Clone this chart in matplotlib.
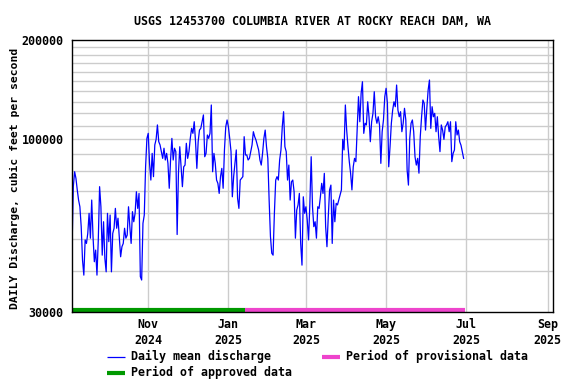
import matplotlib
matplotlib.use('Agg')
import matplotlib.pyplot as plt
from matplotlib.lines import Line2D
from matplotlib.ticker import FixedLocator, NullLocator, FixedFormatter
import pandas as pd

# ---------------- data ----------------
title = "USGS 12453700 COLUMBIA RIVER AT ROCKY REACH DAM, WA"
ylabel = "DAILY Discharge, cubic feet per second"
start_date = "2024-09-04"          # first daily value
approved_end = "2025-01-14"        # end of approved period
x_min, x_max = "2024-09-04", "2025-09-05"

# daily mean discharge, cfs
discharge = [
    46200, 71900, 79800, 76200, 70300, 65500, 62500, 54400, 43100, 38800,
    49600, 48400, 51900, 59700, 50200, 65500, 50700, 42600, 46200, 38800,
    49600, 71900, 62500, 44600, 56300, 43600, 39700, 59700, 49000, 59000,
    39700, 51900, 53800, 61800, 53800, 57700, 50200, 44100, 47300, 48400,
    53800, 50200, 51300, 62500, 54400, 48400, 60400, 56300, 59700, 69400,
    61800, 68600, 38400, 37500, 55700, 59000, 82600, 100700, 104300, 84600,
    75300, 90700, 77100, 96200, 100000, 110600, 98400, 96200, 91800, 87600,
    94000, 86600, 90700, 84600, 71100, 86600, 100700,
    86600, 94000, 91800, 51500, 78900, 95000, 82600, 71900, 82600, 83600,
    97300, 87600, 91800, 100700, 108000, 104300, 113100, 98400, 81700, 98400,
    106700, 108000, 113100, 118600, 88600, 90700, 103100, 100700, 104300, 127100,
    79800, 90700, 84600, 75300, 73600, 68600, 77100, 81700, 71100, 92900,
    109200, 114500, 109200, 100700, 91800, 67000, 77100, 84600, 92900, 66300,
    61800, 75300, 76200, 77100, 101900, 89700, 89700, 86600, 87600, 91800,
    96200, 105500, 101900, 99500, 96200, 92900, 86600, 83600, 90700, 100700,
    106700, 95000, 87600, 65500,
    50800, 45200, 44600, 59700, 75300, 77100, 75300, 86600, 92900, 109200,
    121300, 95000, 91800, 75300, 83600, 65500, 74400, 75300, 69400, 50200,
    61100, 63300, 68600, 48400, 41600, 67000, 59700, 62500, 57000, 49600,
    64000, 88600, 62500, 54400, 56300, 50200, 62500, 61800, 67000, 73600,
    68600, 78900, 54400, 47300, 58300, 70300, 72700, 48400, 65500, 56300,
    64000, 63300, 65500, 67900, 70300, 100000, 92900, 127100, 106700, 95000,
    85600, 78900, 70300, 82600, 87600, 85600, 108000, 134700, 113100, 137900,
    149500,
    104300, 111900, 110600, 130000, 117100, 98400, 113100, 119900, 139400, 117100,
    111900, 117100, 110600, 84600, 105500, 114500, 134700, 142800, 128600, 82600,
    95000, 111900, 122700, 130000, 125600, 146100, 122700, 117100, 121300, 105500,
    111900, 124200, 114500, 80800, 72700, 100700, 111900, 114500, 105500, 88600,
    83600, 87600, 79000, 101900, 117100, 131600, 128600, 106700, 124200, 141100,
    151300, 108000, 125600, 117100, 119900, 105500, 117100, 101900, 91800, 110600,
    106700, 100000, 109200, 110600, 113100, 105500, 113100, 85600, 90700, 92900,
    113100, 103100, 106700, 98400, 96000, 91800, 87600,
]

y_major = [30000, 100000, 200000]
y_grid = [40000, 50000, 60000, 70000, 80000, 90000, 100000, 110000, 120000,
          130000, 140000, 150000, 160000, 170000, 180000, 190000]
x_ticks = ["2024-11-01", "2025-01-01", "2025-03-01", "2025-05-01",
           "2025-07-01", "2025-09-01"]
x_labels = ["Nov\n2024", "Jan\n2025", "Mar\n2025", "May\n2025",
            "Jul\n2025", "Sep\n2025"]

# ---------------- style ----------------
BLUE = "#0000FF"
GREEN = "#009900"
PINK = "#EE44CC"
GRID = "#CCCCCC"
FONT = "DejaVu Sans Mono"
FS = 8.4

plt.rcParams['font.family'] = FONT
plt.rcParams['font.weight'] = 'bold'

dates = pd.date_range(start_date, periods=len(discharge), freq="D")

W, H = 576, 384
fig = plt.figure(figsize=(W / 100, H / 100), dpi=100)
ax = fig.add_axes([72 / W, 1 - 312 / H, (553 - 72) / W, (312 - 40) / H])

ax.set_yscale("log")
ax.set_ylim(30000, 200000)
ax.set_xlim(pd.Timestamp(x_min), pd.Timestamp(x_max))

# grid
for g in y_grid:
    ax.axhline(g, color=GRID, lw=1.0, zorder=1)
for t in x_ticks:
    ax.axvline(pd.Timestamp(t), color=GRID, lw=1.0, zorder=1)

# data
ax.plot(dates, discharge, color=BLUE, lw=0.9, zorder=3)

# approval bars along the bottom
bar_y = 0.0075
trans = ax.get_xaxis_transform()
ax.plot([pd.Timestamp(start_date), pd.Timestamp(approved_end)], [bar_y, bar_y],
        color=GREEN, lw=3.0, solid_capstyle="butt", transform=trans, zorder=4,
        clip_on=False)
ax.plot([pd.Timestamp(approved_end), dates[-1] + pd.Timedelta(days=1)],
        [bar_y, bar_y], color=PINK, lw=3.0, solid_capstyle="butt",
        transform=trans, zorder=4, clip_on=False)

# ticks
ax.yaxis.set_major_locator(FixedLocator(y_major))
ax.yaxis.set_major_formatter(FixedFormatter([str(v) for v in y_major]))
ax.yaxis.set_minor_locator(NullLocator())
ax.set_xticks([pd.Timestamp(t) for t in x_ticks])
ax.set_xticklabels(x_labels, linespacing=1.3)
ax.xaxis.set_minor_locator(NullLocator())
ax.tick_params(axis="both", length=0, labelsize=FS)
ax.tick_params(axis="y", pad=6)
ax.tick_params(axis="x", pad=4)
for lab in ax.get_xticklabels() + ax.get_yticklabels():
    lab.set_fontweight("bold")

for s in ax.spines.values():
    s.set_color("black")
    s.set_linewidth(1.0)
    s.set_zorder(5)

ax.set_title(title, fontsize=FS, fontweight="bold", pad=11)
ax.set_ylabel(ylabel, fontsize=8.2, fontweight="bold")
ax.yaxis.set_label_coords(-0.108, 0.49)

# legend (manual layout)
def leg_item(x0, y, color, lw, text):
    fig.add_artist(Line2D([x0 / W, (x0 + 18) / W], [1 - y / H, 1 - y / H],
                          color=color, lw=lw, solid_capstyle="butt"))
    fig.text((x0 + 24) / W, 1 - y / H, text, fontsize=FS, fontweight="bold",
             va="center", ha="left")

leg_item(107, 356.5, BLUE, 0.9, "Daily mean discharge")
leg_item(107, 372.5, GREEN, 3.0, "Period of approved data")
leg_item(322, 356.5, PINK, 3.0, "Period of provisional data")

fig.savefig("out.png", dpi=100)
